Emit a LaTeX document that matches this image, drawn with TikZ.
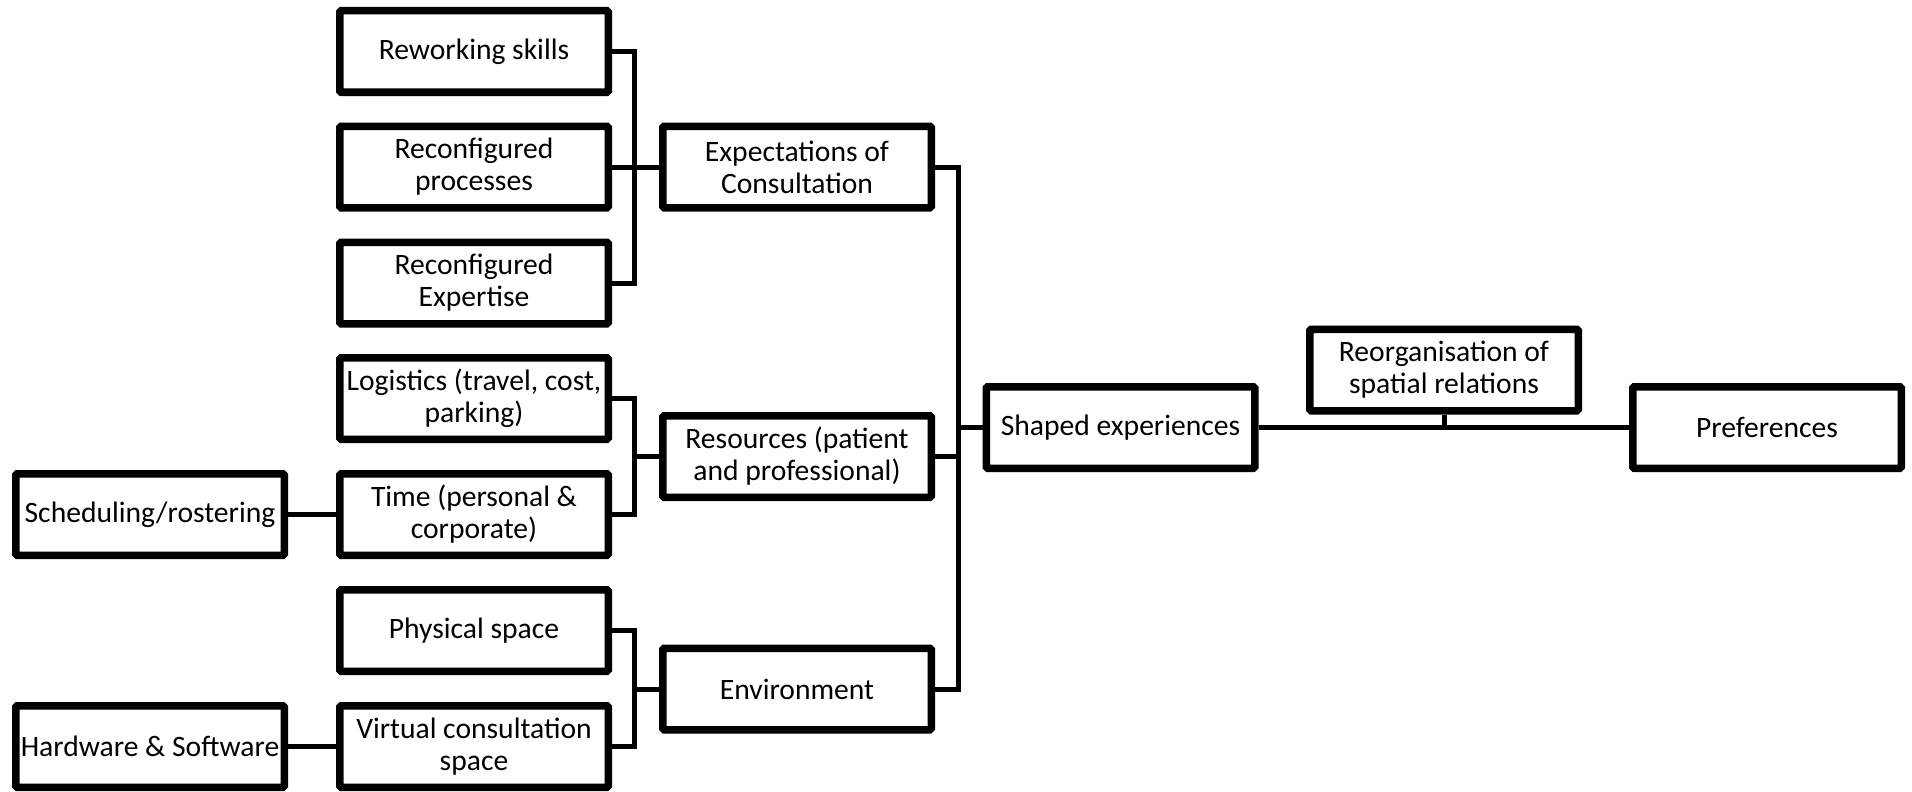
\documentclass[tikz,border=0pt]{standalone}
\usepackage{fontspec}
\setmainfont{Carlito}
\usetikzlibrary{shadows,backgrounds}
\tikzset{
  box/.style={draw=black, line width=7.5pt, fill=white, rounded corners=1.5pt,
    minimum width=268.5pt, minimum height=81.5pt, inner sep=0pt,
    align=center, font=\fontsize{29.6}{32}\selectfont,
    drop shadow={shadow xshift=2pt, shadow yshift=-3pt, opacity=0.22, fill=black}},
  conn/.style={draw=black, line width=5pt},
}
\begin{document}
\begin{tikzpicture}[x=1pt,y=-1pt]
\useasboundingbox (0,0) rectangle (1912,792);

% leaf boxes
\node[box] (rw)  at (474,51.5)  {Reworking skills};
\node[box] (rp)  at (474,167)   {Reconfigured\\processes};
\node[box] (rex) at (474,283)   {Reconfigured\\Expertise};
\node[box] (lg)  at (474,398.5) {Logistics (travel, cost,\\parking)};
\node[box] (tm)  at (474,514.5) {Time (personal \&\\corporate)};
\node[box] (ps)  at (474,630.5) {Physical space};
\node[box] (vc)  at (474,746.5) {Virtual consultation\\space};
\node[box] (sch) at (150,514.5) {Scheduling/rostering};
\node[box] (hw)  at (150,746.5) {Hardware \& Software};

% themes
\node[box] (exc) at (797,167)   {Expectations of\\Consultation};
\node[box] (res) at (797,456.5) {Resources (patient\\and professional)};
\node[box] (env) at (797,689)   {Environment};

% outcome chain
\node[box] (se)   at (1120.5,427.5) {Shaped experiences};
\node[box] (reo)  at (1444,370)     {Reorganisation of\\spatial relations};
\node[box] (pref) at (1767,427.5)   {Preferences};

% bracket junctions
\coordinate (b1) at (634,167);
\coordinate (b2) at (634,456.5);
\coordinate (b3) at (634,689);
\coordinate (b4) at (958,427.5);
\coordinate (b5) at (1444,427.5);

\begin{pgfonlayer}{background}
  \draw[conn] (rw.east) -| (b1) |- (rex.east);
  \draw[conn] (rp.east) -- (exc.west);
  \draw[conn] (lg.east) -| (b2) |- (tm.east);
  \draw[conn] (b2) -- (res.west);
  \draw[conn] (ps.east) -| (b3) |- (vc.east);
  \draw[conn] (b3) -- (env.west);
  \draw[conn] (sch.east) -- (tm.west);
  \draw[conn] (hw.east) -- (vc.west);
  \draw[conn] (exc.east) -| (b4) |- (env.east);
  \draw[conn] (res.east) -- (res.east -| b4);
  \draw[conn] (b4) -- (se.west);
  \draw[conn] (se.east) -- (pref.west);
  \draw[conn] (reo.south) -- (b5);
\end{pgfonlayer}
\end{tikzpicture}
\end{document}
